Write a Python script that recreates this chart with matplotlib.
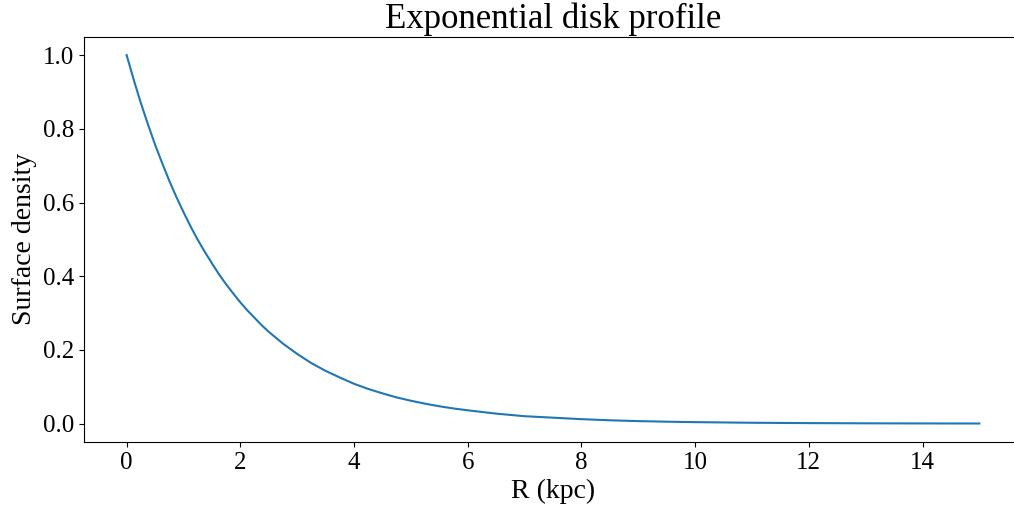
import matplotlib
matplotlib.use("Agg")
import matplotlib.pyplot as plt

plt.rcParams['font.family'] = ['Liberation Serif', 'DejaVu Serif']

# Radius (kpc) and normalised surface density of the disk
radius_kpc = [0, 0.125, 0.25, 0.375, 0.5, 0.625, 0.75, 0.875, 1, 1.125, 1.25,
              1.375, 1.5, 1.625, 1.75, 1.875, 2, 2.125, 2.25, 2.375, 2.5,
              2.625, 2.75, 2.875, 3, 3.25, 3.5, 3.75, 4, 4.25, 4.5, 4.75, 5,
              5.25, 5.5, 5.75, 6, 6.5, 7, 7.5, 8, 8.5, 9, 9.5, 10, 11, 12,
              13, 14, 15]
surface_density = [1.000, 0.933, 0.870, 0.812, 0.757, 0.707, 0.659, 0.615,
                   0.574, 0.535, 0.499, 0.466, 0.435, 0.405, 0.378, 0.353,
                   0.329, 0.307, 0.287, 0.267, 0.249, 0.233, 0.217, 0.203,
                   0.189, 0.164, 0.143, 0.125, 0.108, 0.094, 0.082, 0.071,
                   0.062, 0.054, 0.047, 0.041, 0.036, 0.027, 0.020, 0.016,
                   0.012, 0.0089, 0.0067, 0.0051, 0.0039, 0.0022, 0.0013,
                   0.0007, 0.0004, 0.0002]

fig = plt.figure(figsize=(10.14, 5.13), dpi=100)
ax = fig.add_axes([84 / 1014, (513 - 442) / 513, 938 / 1014, (442 - 36.7) / 513])

ax.plot(radius_kpc, surface_density, color='#1f77b4', linewidth=1.5)

ax.set_xlim(-0.75, 15.75)
ax.set_ylim(-0.05, 1.05)
ax.set_xticks([0, 2, 4, 6, 8, 10, 12, 14])
ax.set_yticks([0.0, 0.2, 0.4, 0.6, 0.8, 1.0])
ax.tick_params(labelsize=18)

ax.set_xlabel('R (kpc)', fontsize=20)
ax.set_ylabel('Surface density', fontsize=20)
ax.set_title('Exponential disk profile', fontsize=25)

fig.savefig('out.png', dpi=100)
